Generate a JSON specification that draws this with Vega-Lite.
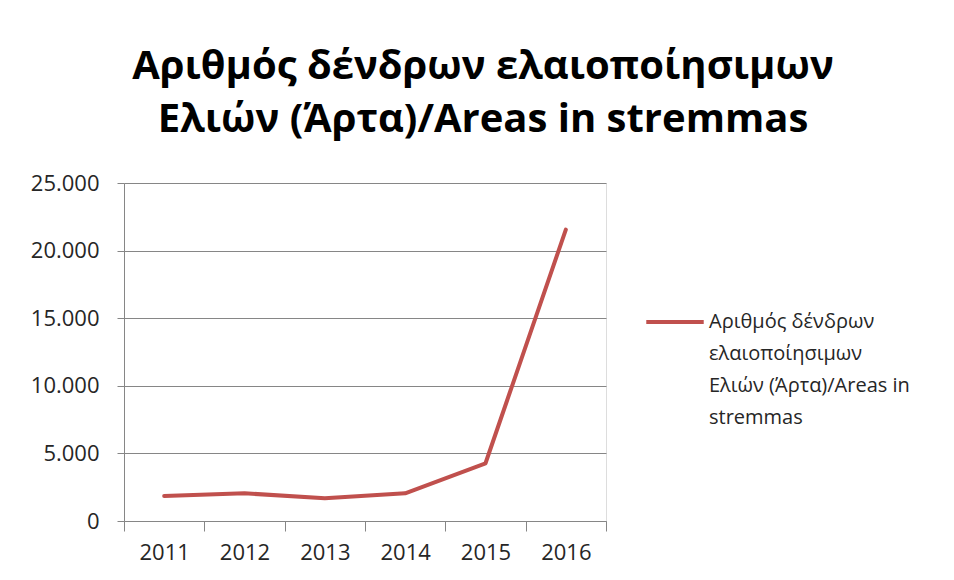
{
  "$schema": "https://vega.github.io/schema/vega-lite/v6.json",
  "width": 482,
  "height": 338,
  "autosize": {"type": "none"},
  "padding": {"left": 124, "top": 183, "right": 348, "bottom": 59},
  "background": "white",
  "title": {
    "text": ["Αριθμός δένδρων ελαιοποίησιμων", "Ελιών (Άρτα)/Areas in stremmas"],
    "font": "Open Sans",
    "fontSize": 40,
    "fontWeight": "bold",
    "color": "#000000",
    "anchor": "middle",
    "frame": "group",
    "dx": 118,
    "lineHeight": 53,
    "offset": 32
  },
  "data": {
    "values": [
      {"year": "2011", "value": 1850, "series": "Αριθμός δένδρων ελαιοποίησιμων Ελιών (Άρτα)/Areas in stremmas"},
      {"year": "2012", "value": 2050, "series": "Αριθμός δένδρων ελαιοποίησιμων Ελιών (Άρτα)/Areas in stremmas"},
      {"year": "2013", "value": 1680, "series": "Αριθμός δένδρων ελαιοποίησιμων Ελιών (Άρτα)/Areas in stremmas"},
      {"year": "2014", "value": 2050, "series": "Αριθμός δένδρων ελαιοποίησιμων Ελιών (Άρτα)/Areas in stremmas"},
      {"year": "2015", "value": 4270, "series": "Αριθμός δένδρων ελαιοποίησιμων Ελιών (Άρτα)/Areas in stremmas"},
      {"year": "2016", "value": 21550, "series": "Αριθμός δένδρων ελαιοποίησιμων Ελιών (Άρτα)/Areas in stremmas"}
    ]
  },
  "mark": {"type": "line", "strokeWidth": 4, "strokeCap": "round", "strokeJoin": "round"},
  "encoding": {
    "x": {
      "field": "year",
      "type": "ordinal",
      "bandPosition": 0.5,
      "scale": {"type": "band", "paddingInner": 0, "paddingOuter": 0},
      "axis": {
        "title": null,
        "grid": false,
        "labelAngle": 0,
        "domainColor": "#868686",
        "tickColor": "#868686",
        "tickSize": 10,
        "tickBand": "extent",
        "labelFont": "Open Sans",
        "labelFontSize": 22,
        "labelColor": "#262626",
        "labelPadding": 11
      }
    },
    "y": {
      "field": "value",
      "type": "quantitative",
      "scale": {"domain": [0, 25000]},
      "axis": {
        "title": null,
        "values": [0, 5000, 10000, 15000, 20000, 25000],
        "labelExpr": "replace(format(datum.value, ','), ',', '.')",
        "gridColor": "#868686",
        "domainColor": "#868686",
        "tickColor": "#868686",
        "tickSize": 7,
        "labelFont": "Open Sans",
        "labelFontSize": 22,
        "labelColor": "#262626",
        "labelPadding": 18
      }
    },
    "color": {
      "field": "series",
      "type": "nominal",
      "scale": {"range": ["#C0504D"]},
      "legend": {
        "title": null,
        "orient": "none",
        "legendX": 520,
        "legendY": 108,
        "symbolType": "stroke",
        "symbolSize": 3300,
        "symbolStrokeWidth": 4,
        "labelFont": "Open Sans",
        "labelFontSize": 20,
        "labelColor": "#262626",
        "labelOffset": 3,
        "labelLimit": 400,
        "labelBaseline": "top",
        "labelExpr": "['Αριθμός δένδρων', 'ελαιοποίησιμων', 'Ελιών (Άρτα)/Areas in', 'stremmas']",
        "encode": {"labels": {"update": {"lineHeight": {"value": 32}, "dy": {"value": -10}}}}
      }
    }
  }
}
